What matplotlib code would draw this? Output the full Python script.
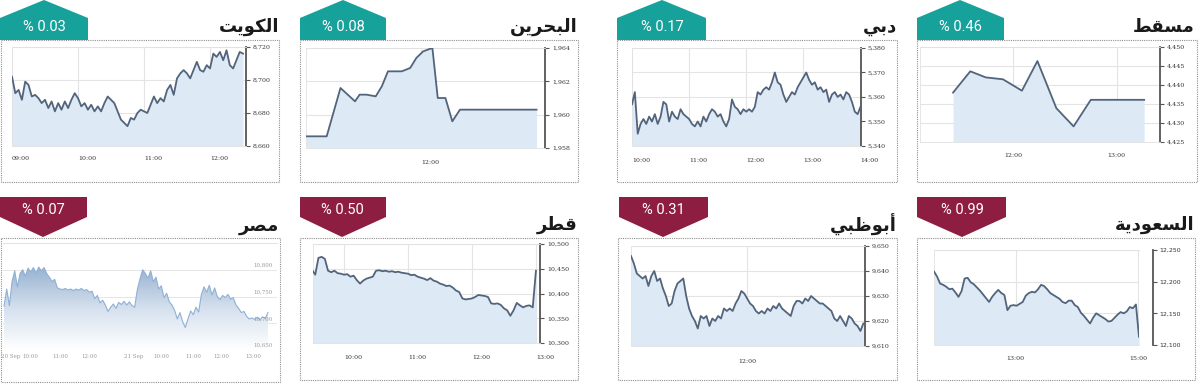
import numpy as np
import matplotlib
matplotlib.use('Agg')
import matplotlib.pyplot as plt
from matplotlib.patches import Polygon, Rectangle
from matplotlib.ticker import FuncFormatter
from matplotlib.colors import LinearSegmentedColormap

W, H = 1200, 385

# ---- data ----
names = ['الكويت', 'البحرين', 'دبي', 'مسقط', 'مصر', 'قطر', 'أبوظبي', 'السعودية']
changes = ['% 0.03', '% 0.08', '% 0.17', '% 0.46', '% 0.07', '% 0.50', '% 0.31', '% 0.99']

kuwait_vals = [8702, 8692, 8694, 8688, 8699, 8697, 8690, 8691, 8689, 8686, 8688, 8683,
               8687, 8681, 8686, 8682, 8687, 8683, 8688, 8692, 8689, 8684, 8686, 8682,
               8685, 8681, 8684, 8681, 8686, 8690, 8688, 8686, 8681, 8676, 8674, 8672,
               8677, 8676, 8680, 8682, 8681, 8680, 8685, 8690, 8686, 8689, 8687, 8694,
               8697, 8691, 8701, 8704, 8706, 8704, 8701, 8706, 8711, 8706, 8705, 8709,
               8707, 8716, 8714, 8717, 8712, 8718, 8709, 8707, 8712, 8717, 8716]
kuwait_times = np.linspace(540, 750, len(kuwait_vals))

bahrain_times = [570, 597, 615, 634, 640, 649, 661, 669, 677, 695, 706, 714, 723, 735,
                 742, 752, 761, 771, 871]
bahrain_vals = [1958.7, 1958.7, 1961.6, 1960.8, 1961.2, 1961.2, 1961.1, 1961.7, 1962.6,
                1962.6, 1962.8, 1963.4, 1963.8, 1964.0, 1961.0, 1961.0, 1959.6, 1960.3,
                1960.3]

dubai_vals = [5357, 5362, 5345, 5349, 5351, 5349, 5352, 5350, 5353, 5349, 5352, 5358,
              5357, 5350, 5354, 5352, 5351, 5355, 5353, 5352, 5351, 5349, 5348, 5350,
              5348, 5352, 5350, 5353, 5355, 5354, 5352, 5353, 5350, 5348, 5351, 5359,
              5356, 5355, 5353, 5355, 5354, 5355, 5354, 5356, 5362, 5361, 5363, 5364,
              5363, 5366, 5370, 5366, 5365, 5361, 5358, 5360, 5362, 5361, 5364, 5366,
              5368, 5370, 5367, 5365, 5366, 5363, 5364, 5362, 5363, 5358, 5361, 5362,
              5360, 5361, 5359, 5362, 5361, 5358, 5354, 5353, 5356]
dubai_times = np.linspace(600, 840, len(dubai_vals))

muscat_times = [685, 695, 704, 714, 725, 734, 745, 755, 765, 796]
muscat_vals = [4438.0, 4443.6, 4442.0, 4441.5, 4438.5, 4446.3, 4433.9, 4429.1, 4436.1, 4436.1]

egypt_vals = [10732, 10764, 10733, 10778, 10798, 10768, 10793, 10800, 10788, 10803,
              10796, 10804, 10794, 10805, 10798, 10804, 10793, 10786, 10778, 10782,
              10766, 10764, 10763, 10765, 10762, 10764, 10761, 10764, 10762, 10765,
              10761, 10763, 10758, 10760, 10746, 10752, 10738, 10743, 10734, 10722,
              10730, 10736, 10728, 10739, 10735, 10741, 10734, 10740, 10733, 10730,
              10763, 10783, 10800, 10793, 10784, 10798, 10778, 10786, 10764, 10770,
              10748, 10756, 10740, 10734, 10724, 10708, 10720, 10703, 10692, 10708,
              10723, 10716, 10730, 10721, 10753, 10768, 10758, 10771, 10753, 10766,
              10750, 10744, 10752, 10748, 10754, 10745, 10748, 10734, 10728, 10720,
              10722, 10713, 10708, 10710, 10707, 10711, 10706, 10712, 10709, 10720]
egypt_xtick_pos = [2.6, 9.7, 21, 32, 48.5, 59, 71, 81.6, 93.5]
egypt_xlabels = ['20 Sep', '10:00', '11:00', '12:00', '21 Sep', '10:00', '11:00', '12:00', '13:00']
egypt_yticks = [10650, 10700, 10750, 10800]

qatar_vals = [10448, 10438, 10472, 10474, 10470, 10446, 10443, 10446, 10441, 10440,
              10438, 10439, 10434, 10436, 10427, 10420, 10426, 10430, 10432, 10434,
              10446, 10447, 10445, 10446, 10444, 10445, 10443, 10444, 10442, 10441,
              10440, 10437, 10438, 10434, 10432, 10430, 10427, 10431, 10426, 10424,
              10420, 10418, 10415, 10416, 10412, 10406, 10403, 10390, 10388, 10389,
              10390, 10393, 10397, 10396, 10395, 10393, 10380, 10379, 10380, 10377,
              10370, 10366, 10355, 10366, 10381, 10376, 10372, 10375, 10376, 10372,
              10446]
qatar_times = np.linspace(570, 780, len(qatar_vals))

abudhabi_vals = [9646, 9643, 9639, 9638, 9637, 9638, 9634, 9638, 9640, 9636, 9637, 9633,
                 9630, 9626, 9627, 9632, 9635, 9636, 9637, 9630, 9625, 9622, 9620, 9617,
                 9622, 9621, 9622, 9618, 9621, 9620, 9622, 9621, 9625, 9624, 9625, 9624,
                 9627, 9629, 9632, 9631, 9629, 9627, 9626, 9624, 9623, 9624, 9623, 9625,
                 9624, 9626, 9625, 9627, 9625, 9624, 9623, 9622, 9626, 9628, 9628, 9627,
                 9629, 9628, 9630, 9629, 9628, 9627, 9627, 9626, 9625, 9624, 9621, 9620,
                 9622, 9620, 9618, 9622, 9621, 9619, 9618, 9616, 9619]
abudhabi_times = np.linspace(600, 840, len(abudhabi_vals))

saudi_vals = [12216, 12208, 12197, 12195, 12192, 12188, 12189, 12183, 12176, 12185,
              12205, 12206, 12199, 12196, 12191, 12186, 12180, 12174, 12168, 12176,
              12182, 12187, 12182, 12179, 12155, 12162, 12163, 12162, 12165, 12168,
              12178, 12182, 12184, 12183, 12188, 12195, 12193, 12188, 12182, 12179,
              12176, 12173, 12168, 12166, 12170, 12170, 12163, 12160, 12151, 12146,
              12140, 12134, 12143, 12150, 12147, 12144, 12141, 12137, 12138, 12143,
              12148, 12152, 12150, 12153, 12160, 12158, 12164, 12113]
saudi_times = np.linspace(700, 901, len(saudi_vals))

TEAL = '#17a19b'
MAROON = '#8e1d42'
LINE = '#52647c'
FILL = '#dde9f5'

# Arabic shaping (presentation forms, visual order) since matplotlib has no shaper
FORMS = {
    'ا': ('\ufe8d', '\ufe8e', None, None), 'أ': ('\ufe83', '\ufe84', None, None),
    'ب': ('\ufe8f', '\ufe90', '\ufe91', '\ufe92'), 'ت': ('\ufe95', '\ufe96', '\ufe97', '\ufe98'),
    'ة': ('\ufe93', '\ufe94', None, None), 'ح': ('\ufea1', '\ufea2', '\ufea3', '\ufea4'),
    'د': ('\ufea9', '\ufeaa', None, None), 'ر': ('\ufead', '\ufeae', None, None),
    'س': ('\ufeb1', '\ufeb2', '\ufeb3', '\ufeb4'), 'ص': ('\ufeb9', '\ufeba', '\ufebb', '\ufebc'),
    'ط': ('\ufec1', '\ufec2', '\ufec3', '\ufec4'), 'ظ': ('\ufec5', '\ufec6', '\ufec7', '\ufec8'),
    'ع': ('\ufec9', '\ufeca', '\ufecb', '\ufecc'), 'ق': ('\ufed5', '\ufed6', '\ufed7', '\ufed8'),
    'ك': ('\ufed9', '\ufeda', '\ufedb', '\ufedc'), 'ل': ('\ufedd', '\ufede', '\ufedf', '\ufee0'),
    'م': ('\ufee1', '\ufee2', '\ufee3', '\ufee4'), 'ن': ('\ufee5', '\ufee6', '\ufee7', '\ufee8'),
    'و': ('\ufeed', '\ufeee', None, None), 'ي': ('\ufef1', '\ufef2', '\ufef3', '\ufef4'),
}


def shape(word):
    out = []
    for i, ch in enumerate(word):
        f = FORMS[ch]
        prev_joins = i > 0 and FORMS[word[i - 1]][2] is not None
        can_left = f[2] is not None and i < len(word) - 1
        if prev_joins and can_left:
            out.append(f[3])
        elif prev_joins:
            out.append(f[1])
        elif can_left:
            out.append(f[2])
        else:
            out.append(f[0])
    return ''.join(reversed(out))


def rect(x0, y0, x1, y1):
    return [x0 / W, 1 - y1 / H, (x1 - x0) / W, (y1 - y0) / H]


fig = plt.figure(figsize=(12, 3.85), dpi=100)
fig.patch.set_facecolor('white')

ov = fig.add_axes([0, 0, 1, 1], zorder=0)
ov.set_xlim(0, W)
ov.set_ylim(H, 0)
ov.axis('off')

frames = [(1, 40, 279, 182), (300, 40, 578, 182), (617, 40, 897, 182), (917, 40, 1197, 182),
          (1, 238, 280, 382), (300, 238, 578, 380), (618, 238, 897, 380), (917, 238, 1195, 380)]
badges = [(0, 88, 44), (300, 386, 343), (617, 706, 662), (917, 1004, 960),
          (0, 87, 43), (300, 386, 342), (619, 708, 663), (917, 1006, 962)]
titles_xy = [(279, 27), (578, 27), (897, 27), (1195, 27),
             (279, 226), (578, 225), (897, 225), (1195, 225)]

for i in range(8):
    x0, y0, x1, y1 = frames[i]
    ov.add_patch(Rectangle((x0, y0), x1 - x0, y1 - y0, fill=False, ec='#8f8f8f',
                           lw=0.8, ls=(0, (1, 1))))
    bl, br, bc = badges[i]
    if i < 4:
        pts = [(bl, 40), (bl, 18), (bc, 0), (br, 18), (br, 40)]
        ty = 27
        col = TEAL
    else:
        pts = [(bl, 197), (br, 197), (br, 217), (bc, 237), (bl, 217)]
        ty = 210
        col = MAROON
    ov.add_patch(Polygon(pts, closed=True, fc=col, ec='none'))
    ov.text(bc, ty, changes[i], ha='center', va='center', color='white',
            fontsize=10.5, family='Roboto')
    tx, tyy = titles_xy[i]
    ov.text(tx, tyy, shape(names[i]), ha='right', va='center', fontsize=13,
            fontweight='bold', family='DejaVu Sans', color='#1a1a1a')

fmt = FuncFormatter(lambda v, p: f'{v:,.0f}')


def hhmm(m):
    return f'{int(m // 60):02d}:{int(m % 60):02d}'


def panel(box, t, v, xlim, ylim, yticks, xticks, ha, pad, outward=0):
    ax = fig.add_axes(rect(*box), zorder=2)
    ax.fill_between(t, v, ylim[0], color=FILL, lw=0, zorder=1)
    ax.plot(t, v, color=LINE, lw=1.3, zorder=3)
    ax.set_xlim(*xlim)
    ax.set_ylim(*ylim)
    ax.set_yticks(yticks)
    ax.yaxis.set_major_formatter(fmt)
    ax.yaxis.tick_right()
    ax.set_xticks(xticks)
    ax.set_xticklabels([hhmm(m) for m in xticks])
    for lbl in ax.get_xticklabels():
        lbl.set_ha(ha)
    ax.grid(True, color='#e4e4e4', lw=0.8, zorder=0)
    ax.set_axisbelow(True)
    ax.tick_params(axis='x', length=0, pad=pad, labelsize=4.5, labelcolor='#333')
    ax.tick_params(axis='y', direction='out', length=3, width=0.8, color='#555',
                   labelsize=4.5, labelcolor='#333', pad=2)
    for lbl in ax.get_xticklabels() + ax.get_yticklabels():
        lbl.set_family('DejaVu Serif')
    for s in ['top', 'left', 'bottom']:
        ax.spines[s].set_color('#e2e2e2')
        ax.spines[s].set_linewidth(0.6)
    ax.spines['right'].set_color('#555')
    ax.spines['right'].set_linewidth(1.3)
    if outward:
        ax.spines['right'].set_position(('outward', outward))
    return ax


panel((12, 47, 246, 146), kuwait_times, kuwait_vals, (540, 752.7), (8660, 8720),
      [8660, 8680, 8700, 8720], [540, 600, 660, 720], 'left', 7)
panel((306, 48, 545, 148), bahrain_times, bahrain_vals, (570, 882), (1958, 1964),
      [1958, 1960, 1962, 1964], [720], 'left', 8.5)
panel((632, 48, 861, 146), dubai_times, dubai_vals, (600, 840.5), (5340, 5380),
      [5340, 5350, 5360, 5370, 5380], [600, 660, 720, 780, 840], 'left', 8.5)
panel((920, 47, 1160, 142), muscat_times, muscat_vals, (665.8, 805.2), (4425, 4450),
      [4425, 4430, 4435, 4440, 4445, 4450], [720, 780], 'center', 8)
panel((313, 244, 540, 343), qatar_times, qatar_vals, (570.9, 783.8), (10300, 10500),
      [10300, 10350, 10400, 10450, 10500], [600, 660, 720, 780], 'left', 8.5)
panel((631, 246, 865, 346), abudhabi_times, abudhabi_vals, (600, 841.7), (9610, 9650),
      [9610, 9620, 9630, 9640, 9650], [720], 'center', 9.5)
panel((934, 250, 1139, 345), saudi_times, saudi_vals, (700, 901), (12100, 12250),
      [12100, 12150, 12200, 12250], [780, 900], 'center', 8, outward=10)

# Egypt: gradient area, labels inside
ax = fig.add_axes(rect(3, 243, 277, 350), zorder=2)
ex = np.arange(len(egypt_vals))
ax.set_xlim(-0.4, 102.4)
ax.set_ylim(10650, 10850)
poly = ax.fill_between(ex, egypt_vals, 10650, color='none', lw=0)
cmap = LinearSegmentedColormap.from_list('eg', ['#ffffff', '#d5e1ee', '#98b2d1'])
grad = np.linspace(0, 1, 256).reshape(-1, 1)
im = ax.imshow(grad, extent=[0, len(egypt_vals) - 1, 10650, max(egypt_vals)],
               aspect='auto', cmap=cmap, origin='lower', zorder=1)
im.set_clip_path(poly.get_paths()[0], transform=ax.transData)
ax.plot(ex, egypt_vals, color='#8fb1d6', lw=0.8, zorder=3)
ax.set_yticks(egypt_yticks)
ax.tick_params(axis='y', length=0, labelleft=False)
for yv in egypt_yticks:
    ax.text(0.95, yv + 4, f'{yv:,}', transform=ax.get_yaxis_transform(), ha='center',
            va='bottom', fontsize=4, color='#999', family='DejaVu Serif')
ax.yaxis.grid(True, color='#e6e6e6', lw=0.7)
ax.set_axisbelow(True)
ax.set_xticks(egypt_xtick_pos)
ax.set_xticklabels(egypt_xlabels)
ax.tick_params(axis='x', length=0, pad=3, labelsize=4, labelcolor='#999')
for lbl in ax.get_xticklabels():
    lbl.set_family('DejaVu Serif')
for s in ['left', 'right', 'bottom']:
    ax.spines[s].set_visible(False)
ax.spines['top'].set_color('#e2e2e2')
ax.spines['top'].set_linewidth(0.7)

fig.savefig('out.png', dpi=100, facecolor='white')
